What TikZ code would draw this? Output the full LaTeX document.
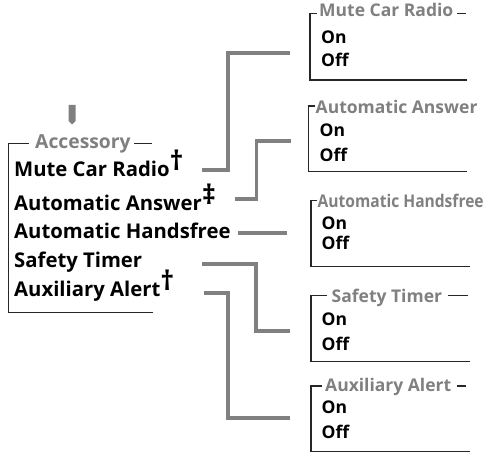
\documentclass[tikz,border=0pt]{standalone}
\usepackage{fontspec}
\setmainfont{Open Sans}
\usepackage{xcolor}
\usepackage{tikz}
\usetikzlibrary{positioning}
\definecolor{menugray}{RGB}{128,128,128}
\newcommand{\dg}[1]{\raisebox{0.3em}{\fontsize{27}{27}\selectfont #1}}

\begin{document}
\begin{tikzpicture}[x=1pt, y=-1pt,
  item/.style={anchor=base west, inner sep=0pt, font=\fontsize{20.3}{22}\selectfont\bfseries},
  head/.style={anchor=base west, inner sep=0pt, text=menugray, font=\fontsize{17.5}{19}\selectfont\bfseries},
  opt/.style={anchor=base west, inner sep=0pt, font=\fontsize{17.5}{19}\selectfont\bfseries},
  frame/.style={line width=1.2pt, black!85},
  conn/.style={line width=3.6pt, menugray}
]
\useasboundingbox (0,0) rectangle (487,454);

% Left: Accessory menu
\fill[menugray] (68.5,105) -- (75.7,105) -- (75.7,121) -- (72.1,124.5) -- (68.5,121) -- cycle;
\node[item, text=menugray, font=\fontsize{19.3}{21}\selectfont\bfseries] (acc) at (35,148.3) {Accessory};
\coordinate (acc-l) at (29,143.3);
\coordinate (acc-r) at (134,143.3);
\draw[frame] (acc-l) -- (8.3,143.3) -- (8.3,312.7) -- (153,312.7);
\draw[frame] (acc-r) -- (152,143.3);

\node[item] (mcr) at (14,177) {Mute Car Radio\dg{†}};
\node[item] (aan) at (14,210.7) {Automatic Answer\dg{‡}};
\node[item] (ahf) at (14,239) {Automatic Handsfree};
\node[item] (sft) at (14,268) {Safety Timer};
\node[item] (aux) at (14,296.7) {Auxiliary Alert\dg{†}};

% Right: sub menus
\node[head] (mcr-h) at (319,17) {Mute Car Radio};
\node[opt] (mcr-on) at (321,43.3) {On};
\node[opt] (mcr-off) at (321,66.7) {Off};
\draw[frame] (317,13.3) -- (310,13.3) -- (310,80) -- (467,80);
\draw[frame] (457,13.3) -- (466,13.3);

\node[head] (aan-h) at (315.5,114) {Automatic Answer};
\node[opt] (aan-on) at (319.5,136.7) {On};
\node[opt] (aan-off) at (319.5,161.7) {Off};
\draw[frame] (314.5,106) -- (308.5,106) -- (308.5,171.7) -- (467,171.7);

\node[head] (ahf-h) at (317.5,207.3) {\scalebox{0.89}[1]{Automatic Handsfree}};
\node[opt] (ahf-on) at (321.5,230) {On};
\node[opt] (ahf-off) at (321.5,250) {Off};
\draw[frame] (316.5,200.5) -- (311,200.5) -- (311,266.7) -- (470,266.7);

\node[head] (sft-h) at (331.5,302.5) {Safety Timer};
\node[opt] (sft-on) at (321.5,325) {On};
\node[opt] (sft-off) at (321.5,350) {Off};
\draw[frame] (326.5,295.5) -- (311,295.5) -- (311,361.7) -- (470,361.7);
\draw[frame] (448,295.5) -- (468,295.5);

\node[head] (aux-h) at (325,391.7) {Auxiliary Alert};
\node[opt] (aux-on) at (321.5,413.3) {On};
\node[opt] (aux-off) at (321.5,438.3) {Off};
\draw[frame] (321.5,386) -- (311,386) -- (311,451.7) -- (470,451.7);
\draw[frame] (457,386) -- (466,386);

% Connectors
\coordinate (mcr-out) at (202,170);
\coordinate (aan-out) at (235,199.3);
\coordinate (ahf-out) at (238,233.3);
\coordinate (sft-out) at (202,264);
\coordinate (aux-out) at (204,292.7);
\coordinate (mcr-in) at (290,53);
\coordinate (aan-in) at (291,141);
\coordinate (ahf-in) at (287,233.3);
\coordinate (sft-in) at (290,331);
\coordinate (aux-in) at (290,418);

\draw[conn] (mcr-out) -- ++(26,0) |- (mcr-in);
\draw[conn] (aan-out) -- ++(21.5,0) |- (aan-in);
\draw[conn] (ahf-out) -- (ahf-in);
\draw[conn] (sft-out) -- ++(54,0) |- (sft-in);
\draw[conn] (aux-out) -- ++(24,0) |- (aux-in);

\end{tikzpicture}
\end{document}
